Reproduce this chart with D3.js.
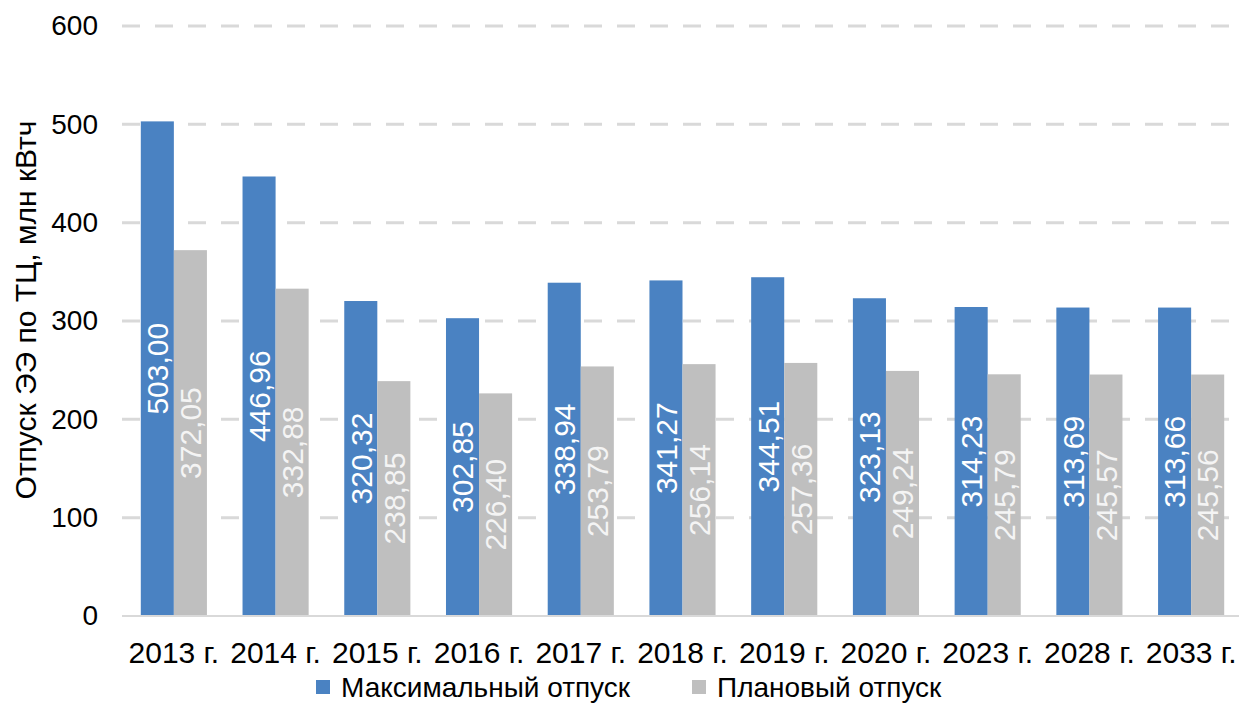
<!DOCTYPE html>
<html>
<head>
<meta charset="utf-8">
<script src="https://cdn.jsdelivr.net/npm/d3@7"></script>
<style>
  body { margin: 0; background: #fff; }
  svg text { font-family: "Liberation Sans", Arial, sans-serif; }
</style>
</head>
<body>
<svg id="chart" width="1239" height="704"></svg>
<script>
var years = ['2013 г.', '2014 г.', '2015 г.', '2016 г.', '2017 г.', '2018 г.',
             '2019 г.', '2020 г.', '2023 г.', '2028 г.', '2033 г.'];
var maxRelease = [503.00, 446.96, 320.32, 302.85, 338.94, 341.27, 344.51, 323.13, 314.23, 313.69, 313.66];
var planRelease = [372.05, 332.88, 238.85, 226.40, 253.79, 256.14, 257.36, 249.24, 245.79, 245.57, 245.56];
var seriesNames = ['Максимальный отпуск', 'Плановый отпуск'];
var yTicks = [0, 100, 200, 300, 400, 500, 600];

var colors = ['#4a82c2', '#bfbfbf'];
var svg = d3.select('#chart');

var x = d3.scaleBand()
    .domain(years)
    .range([123, 1242])
    .paddingInner(0.35)
    .paddingOuter(0.175);

var xInner = d3.scaleBand()
    .domain([0, 1])
    .range([0, x.bandwidth()]);

var y = d3.scaleLinear()
    .domain([0, 600])
    .range([616, 26]);

var fmt = function(v) { return v.toFixed(2).replace('.', ','); };

// gridlines
svg.append('g').selectAll('line')
    .data(yTicks.filter(function(t) { return t > 0; }))
    .enter().append('line')
    .attr('x1', 122).attr('x2', 1239)
    .attr('y1', function(d) { return y(d); })
    .attr('y2', function(d) { return y(d); })
    .style('stroke', '#d9d9d9')
    .style('stroke-width', 3)
    .style('stroke-dasharray', '18,15');

// y axis labels
var yAxis = d3.axisLeft(y).tickValues(yTicks).tickSize(0).tickPadding(0);
svg.append('g')
    .attr('transform', 'translate(98,0)')
    .call(yAxis)
    .call(function(g) { g.select('.domain').remove(); })
    .selectAll('text')
    .style('font-size', '28px')
    .style('fill', '#000');

// bars
var groups = svg.append('g').selectAll('g')
    .data(years)
    .enter().append('g')
    .attr('transform', function(d) { return 'translate(' + x(d) + ',0)'; });

[maxRelease, planRelease].forEach(function(series, si) {
    groups.append('rect')
        .attr('x', xInner(si))
        .attr('width', xInner.bandwidth())
        .attr('y', function(d, i) { return y(series[i]); })
        .attr('height', function(d, i) { return y(0) - y(series[i]); })
        .style('fill', colors[si]);

    groups.append('text')
        .attr('transform', function(d, i) {
            var cx = xInner(si) + xInner.bandwidth() / 2;
            var cy = (y(series[i]) + y(0)) / 2;
            return 'translate(' + cx + ',' + cy + ') rotate(-90)';
        })
        .attr('text-anchor', 'middle')
        .attr('dy', '0.36em')
        .style('font-size', '30px')
        .style('fill', si === 0 ? '#ffffff' : '#f4f4f4')
        .text(function(d, i) { return fmt(series[i]); });
});

// baseline
svg.append('line')
    .attr('x1', 122).attr('x2', 1239)
    .attr('y1', y(0)).attr('y2', y(0))
    .style('stroke', '#d9d9d9')
    .style('stroke-width', 2);

// x axis labels
var xAxis = d3.axisBottom(x).tickSize(0).tickPadding(0);
svg.append('g')
    .attr('transform', 'translate(0,' + (y(0) + 47) + ')')
    .call(xAxis)
    .call(function(g) { g.select('.domain').remove(); })
    .selectAll('text')
    .attr('y', 0)
    .attr('dy', 0)
    .style('font-size', '30px')
    .style('fill', '#000');

// y title
svg.append('text')
    .attr('transform', 'translate(25,310) rotate(-90)')
    .attr('text-anchor', 'middle')
    .attr('dy', '0.36em')
    .style('font-size', '30px')
    .style('fill', '#000')
    .text('Отпуск ЭЭ по ТЦ, млн кВтч');

// legend
var legendX = [316, 692];
var legend = svg.append('g').selectAll('g')
    .data(seriesNames)
    .enter().append('g')
    .attr('transform', function(d, i) { return 'translate(' + legendX[i] + ',687)'; });
legend.append('rect')
    .attr('x', 0).attr('y', -7)
    .attr('width', 14).attr('height', 14)
    .style('fill', function(d, i) { return colors[i]; });
legend.append('text')
    .attr('x', 25)
    .attr('dy', '0.36em')
    .style('font-size', '28px')
    .style('fill', '#000')
    .text(function(d) { return d; });
</script>
</body>
</html>
